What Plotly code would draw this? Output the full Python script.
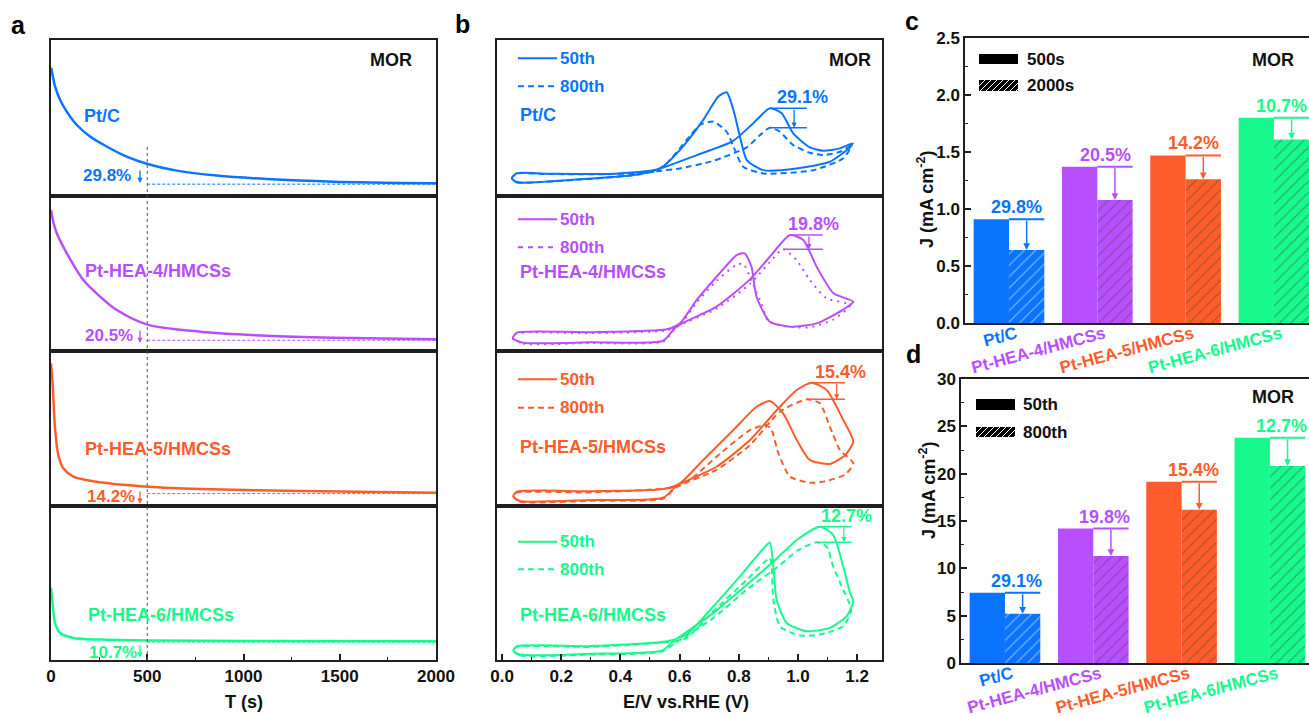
import plotly.graph_objects as go

W, H = 1309, 717
FONT = "Liberation Sans, Arial, Helvetica, sans-serif"

samples = ["Pt/C", "Pt-HEA-4/HMCSs", "Pt-HEA-5/HMCSs", "Pt-HEA-6/HMCSs"]
colors = ["#0A74FF", "#B84FFF", "#FF5C2B", "#17F98D"]

# ---------------- (a) chronoamperometry (panel-normalised current) ----------------
ca_t_ptc = [0, 4, 21, 47, 81, 133, 203, 289, 393, 506, 653, 861, 1120, 1467, 2000]
ca_j_ptc = [0.821, 0.80, 0.702, 0.616, 0.541, 0.455, 0.379, 0.315, 0.25, 0.201, 0.16, 0.128, 0.106, 0.089, 0.079]
ca_t_hea4 = [0, 12, 30, 82, 168, 255, 342, 505, 774, 1120, 1466, 2000]
ca_j_hea4 = [0.906, 0.831, 0.756, 0.627, 0.455, 0.348, 0.261, 0.165, 0.121, 0.095, 0.082, 0.072]
ca_t_hea5 = [0, 4, 9, 21, 38, 64, 116, 255, 505, 774, 1294, 2000]
ca_j_hea5 = [0.917, 0.86, 0.777, 0.498, 0.326, 0.24, 0.186, 0.15, 0.121, 0.106, 0.094, 0.083]
ca_t_hea6 = [0, 4, 9, 21, 47, 116, 255, 505, 1000, 2000]
ca_j_hea6 = [0.468, 0.42, 0.358, 0.24, 0.175, 0.143, 0.132, 0.126, 0.123, 0.121]
ca_loss = ["29.8%", "20.5%", "14.2%", "10.7%"]

# ---------------- (b) CV curves (panel-normalised current) ----------------
ptc_50_fwd_E = [0.033, 0.05, 0.275, 0.444, 0.511, 0.658, 0.78, 0.849, 0.905, 0.945, 0.984, 1.04, 1.086, 1.142, 1.185]
ptc_50_fwd_j = [0.111, 0.085, 0.106, 0.132, 0.158, 0.26, 0.35, 0.465, 0.561, 0.529, 0.40, 0.31, 0.288, 0.303, 0.335]
ptc_50_rev_E = [1.185, 1.176, 1.108, 0.996, 0.883, 0.827, 0.804, 0.782, 0.759, 0.731, 0.68, 0.601, 0.534, 0.376, 0.151, 0.05, 0.033]
ptc_50_rev_j = [0.335, 0.31, 0.217, 0.174, 0.163, 0.228, 0.378, 0.55, 0.664, 0.636, 0.486, 0.292, 0.174, 0.14, 0.14, 0.143, 0.111]
ptc_800_fwd_E = [0.033, 0.05, 0.275, 0.444, 0.511, 0.601, 0.714, 0.827, 0.872, 0.905, 0.939, 0.984, 1.04, 1.086, 1.142, 1.18]
ptc_800_fwd_j = [0.111, 0.085, 0.104, 0.13, 0.153, 0.174, 0.223, 0.31, 0.389, 0.436, 0.41, 0.324, 0.275, 0.26, 0.281, 0.318]
ptc_800_rev_E = [1.18, 1.153, 1.052, 0.883, 0.815, 0.782, 0.759, 0.714, 0.669, 0.624, 0.556, 0.511, 0.376, 0.151, 0.05, 0.033]
ptc_800_rev_j = [0.318, 0.239, 0.163, 0.142, 0.185, 0.314, 0.41, 0.475, 0.454, 0.357, 0.206, 0.153, 0.138, 0.138, 0.141, 0.111]

hea4_50_fwd_E = [0.036, 0.072, 0.3, 0.545, 0.589, 0.725, 0.838, 0.905, 0.973, 1.018, 1.063, 1.12, 1.187]
hea4_50_fwd_j = [0.079, 0.05, 0.053, 0.063, 0.154, 0.283, 0.459, 0.605, 0.745, 0.713, 0.541, 0.369, 0.315]
hea4_50_rev_E = [1.187, 1.15, 1.063, 0.973, 0.905, 0.86, 0.843, 0.82, 0.793, 0.725, 0.658, 0.601, 0.557, 0.3, 0.05, 0.036]
hea4_50_rev_j = [0.315, 0.261, 0.175, 0.154, 0.186, 0.347, 0.541, 0.627, 0.616, 0.476, 0.326, 0.175, 0.137, 0.118, 0.115, 0.079]
hea4_800_fwd_E = [0.036, 0.072, 0.3, 0.545, 0.589, 0.725, 0.838, 0.905, 0.95, 0.995, 1.04, 1.096, 1.176]
hea4_800_fwd_j = [0.079, 0.045, 0.048, 0.058, 0.15, 0.27, 0.43, 0.57, 0.653, 0.584, 0.455, 0.337, 0.294]
hea4_800_rev_E = [1.176, 1.12, 1.04, 0.96, 0.9, 0.877, 0.843, 0.815, 0.79, 0.725, 0.658, 0.601, 0.557, 0.3, 0.05, 0.036]
hea4_800_rev_j = [0.294, 0.2, 0.15, 0.155, 0.19, 0.3, 0.45, 0.56, 0.55, 0.45, 0.31, 0.165, 0.13, 0.112, 0.11, 0.079]

hea5_50_fwd_E = [0.038, 0.06, 0.3, 0.545, 0.59, 0.725, 0.838, 0.939, 0.996, 1.046, 1.097, 1.153, 1.187]
hea5_50_fwd_j = [0.06, 0.029, 0.035, 0.05, 0.126, 0.25, 0.423, 0.637, 0.745, 0.792, 0.745, 0.552, 0.412]
hea5_50_rev_E = [1.187, 1.16, 1.108, 1.04, 0.996, 0.95, 0.905, 0.86, 0.782, 0.68, 0.601, 0.545, 0.3, 0.05, 0.038]
hea5_50_rev_j = [0.412, 0.326, 0.268, 0.294, 0.423, 0.595, 0.674, 0.637, 0.487, 0.294, 0.143, 0.106, 0.092, 0.089, 0.06]
hea5_800_fwd_E = [0.038, 0.06, 0.3, 0.545, 0.59, 0.725, 0.838, 0.939, 1.03, 1.074, 1.108, 1.142, 1.187]
hea5_800_fwd_j = [0.06, 0.025, 0.03, 0.045, 0.12, 0.23, 0.39, 0.605, 0.685, 0.659, 0.508, 0.358, 0.272]
hea5_800_rev_E = [1.187, 1.16, 1.087, 1.04, 0.973, 0.934, 0.911, 0.894, 0.838, 0.725, 0.635, 0.59, 0.3, 0.05, 0.038]
hea5_800_rev_j = [0.272, 0.2, 0.154, 0.147, 0.186, 0.337, 0.487, 0.519, 0.487, 0.315, 0.165, 0.12, 0.085, 0.083, 0.06]

hea6_50_fwd_E = [0.038, 0.06, 0.3, 0.54, 0.579, 0.714, 0.827, 0.917, 0.996, 1.074, 1.119, 1.153, 1.176, 1.187]
hea6_50_fwd_j = [0.06, 0.035, 0.04, 0.06, 0.121, 0.305, 0.487, 0.637, 0.777, 0.863, 0.81, 0.605, 0.434, 0.379]
hea6_50_rev_E = [1.187, 1.164, 1.108, 1.03, 0.962, 0.928, 0.917, 0.905, 0.889, 0.804, 0.714, 0.624, 0.557, 0.3, 0.05, 0.038]
hea6_50_rev_j = [0.379, 0.283, 0.208, 0.186, 0.24, 0.39, 0.605, 0.76, 0.734, 0.541, 0.347, 0.165, 0.121, 0.09, 0.089, 0.06]
hea6_800_fwd_E = [0.038, 0.06, 0.3, 0.54, 0.59, 0.72, 0.83, 0.93, 1.0, 1.063, 1.097, 1.119, 1.153, 1.18]
hea6_800_fwd_j = [0.06, 0.03, 0.035, 0.055, 0.115, 0.28, 0.46, 0.6, 0.71, 0.762, 0.734, 0.605, 0.455, 0.326]
hea6_800_rev_E = [1.18, 1.153, 1.074, 1.007, 0.939, 0.917, 0.911, 0.905, 0.827, 0.714, 0.624, 0.58, 0.3, 0.05, 0.038]
hea6_800_rev_j = [0.326, 0.218, 0.165, 0.158, 0.218, 0.39, 0.605, 0.659, 0.519, 0.315, 0.143, 0.12, 0.085, 0.085, 0.06]
cv_loss = ["29.1%", "19.8%", "15.4%", "12.7%"]

# ---------------- (c) / (d) bar values ----------------
j_500s = [0.91, 1.37, 1.47, 1.80]
j_2000s = [0.64, 1.08, 1.26, 1.61]
j_50th = [7.42, 14.2, 19.15, 23.8]
j_800th = [5.2, 11.3, 16.2, 20.8]
c_loss = ["29.8%", "20.5%", "14.2%", "10.7%"]
d_loss = ["29.1%", "19.8%", "15.4%", "12.7%"]

# ================= figure =================
def xr(n): return "x" if n == 1 else f"x{n}"
def yr(n): return "y" if n == 1 else f"y{n}"
def xa(n): return "xaxis" if n == 1 else f"xaxis{n}"
def ya(n): return "yaxis" if n == 1 else f"yaxis{n}"
def px(x): return x / W
def py(y): return 1 - y / H

INK = "#1f1f1f"
TICKFONT = dict(family=FONT, size=17, color="#111111", weight="bold")
LINE = dict(showline=True, linecolor=INK, linewidth=1.5, showgrid=False, zeroline=False, fixedrange=True,
            automargin=False)

fig = go.Figure()
axes = {}
rows = [(40, 195.5), (195.5, 350.5), (350.5, 505.5), (505.5, 660)]
for i, (top, bot) in enumerate(rows):
    for n, dom, rng, dt, mdt, fmt in [
        (i + 1, [51 / W, 436 / W], [0, 2000], 500, 250, "d"),
        (i + 5, [497 / W, 882 / W], [-0.017, 1.284], 0.2, 0.1, ".1f"),
    ]:
        xc = dict(LINE, domain=dom, range=rng, anchor=yr(n), mirror=True)
        if i == 3:
            xc.update(ticks="inside", ticklen=6, tickwidth=1.5, tickcolor=INK, tick0=0, dtick=dt,
                      tickformat=fmt, tickfont=TICKFONT,
                      minor=dict(ticks="inside", ticklen=3, tickwidth=1, tickcolor=INK, dtick=mdt, tick0=0))
        else:
            xc.update(ticks="", showticklabels=False)
        axes[xa(n)] = xc
        axes[ya(n)] = dict(LINE, domain=[py(bot), py(top)], range=[0, 1], anchor=xr(n), mirror=True,
                           ticks="", showticklabels=False)

cat_text = [f'<span style="color:{c}">{s}</span>' for s, c in zip(samples, colors)]
for n, xdom, xrng, ytop, ybot, yrng, ydt, ymdt, yfmt in [
    (9, [965 / W, 1], [-0.498, 3.397], 38, 323, [0, 2.5], 0.5, 0.25, ".1f"),
    (10, [961 / W, 1], [-0.498, 3.443], 379, 663, [0, 30], 5, 2.5, "d"),
]:
    axes[xa(n)] = dict(LINE, domain=xdom, range=xrng, anchor=yr(n), mirror=True, ticks="",
                       tickvals=[0, 1, 2, 3], ticktext=cat_text, tickangle=-15, tickfont=TICKFONT,
                       ticklabelshift=7, ticklabelstandoff=-7)
    axes[ya(n)] = dict(LINE, domain=[py(ybot), py(ytop)], range=yrng, anchor=xr(n), mirror=False,
                       ticks="inside", ticklen=6, tickwidth=1.5, tickcolor=INK, tick0=0, dtick=ydt,
                       tickformat=yfmt, tickfont=TICKFONT,
                       minor=dict(ticks="inside", ticklen=3, tickwidth=1, tickcolor=INK, dtick=ymdt, tick0=0))

shapes = []
ann = []

# ---- panel a ----
ca_sets = [(ca_t_ptc, ca_j_ptc), (ca_t_hea4, ca_j_hea4), (ca_t_hea5, ca_j_hea5), (ca_t_hea6, ca_j_hea6)]
a_label_pos = [(161, 0.513), (165, 0.513), (166, 0.363), (182, 0.294)]
a_pct_pos = [(156, 0.126), (166, 0.095), (177, 0.057), (187, 0.050)]
a_arrow_tip = [0.081, 0.048, 0.012, 0.016]
for i, (t, j) in enumerate(ca_sets):
    n = i + 1
    c = colors[i]
    fig.add_trace(go.Scatter(x=t, y=j, mode="lines", line=dict(color=c, width=2.5, shape="spline", smoothing=0.8),
                             xaxis=xr(n), yaxis=yr(n), hoverinfo="skip"))
    shapes.append(dict(type="line", xref=xr(n), yref=yr(n), x0=500, x1=2000, y0=j[-1] - 0.006, y1=j[-1] - 0.006,
                       line=dict(color=c, width=1, dash="3px,2px")))
    ann.append(dict(xref=xr(n), yref=yr(n), x=a_label_pos[i][0], y=a_label_pos[i][1], text=samples[i],
                    showarrow=False, xanchor="left", yanchor="middle",
                    font=dict(family=FONT, size=18, color=c, weight="bold")))
    ann.append(dict(xref=xr(n), yref=yr(n), x=a_pct_pos[i][0], y=a_pct_pos[i][1], text=ca_loss[i],
                    showarrow=False, xanchor="left", yanchor="middle",
                    font=dict(family=FONT, size=17, color=c, weight="bold")))
    ann.append(dict(xref=xr(n), yref=yr(n), x=462, y=a_arrow_tip[i], ax=0, ay=-14, text="", showarrow=True,
                    arrowhead=2, arrowsize=0.8, arrowwidth=1.3, arrowcolor=c))
shapes.append(dict(type="line", xref="x", yref="paper", x0=500, x1=500, y0=py(660), y1=py(145),
                   line=dict(color="#555555", width=1, dash="3px,3px")))
ann.append(dict(xref="x", yref="y", x=1766, y=0.874, text="MOR", showarrow=False,
                font=dict(family=FONT, size=18, color="#111111", weight="bold")))

# ---- panel b ----
cv_sets = [
    (ptc_50_fwd_E, ptc_50_fwd_j, ptc_50_rev_E, ptc_50_rev_j, ptc_800_fwd_E, ptc_800_fwd_j, ptc_800_rev_E, ptc_800_rev_j),
    (hea4_50_fwd_E, hea4_50_fwd_j, hea4_50_rev_E, hea4_50_rev_j, hea4_800_fwd_E, hea4_800_fwd_j, hea4_800_rev_E, hea4_800_rev_j),
    (hea5_50_fwd_E, hea5_50_fwd_j, hea5_50_rev_E, hea5_50_rev_j, hea5_800_fwd_E, hea5_800_fwd_j, hea5_800_rev_E, hea5_800_rev_j),
    (hea6_50_fwd_E, hea6_50_fwd_j, hea6_50_rev_E, hea6_50_rev_j, hea6_800_fwd_E, hea6_800_fwd_j, hea6_800_rev_E, hea6_800_rev_j),
]
dash800 = ["6px,4px", "2px,5px", "6px,4px", "6px,4px"]
dash_leg = ["6px,4px", "5px,5px", "6px,4px", "6px,4px"]
b_leg_y = [(0.883, 0.702, 0.519), (0.846, 0.666, 0.508), (0.814, 0.631, 0.379), (0.766, 0.588, 0.294)]
b_br_right = [1.03, 1.084, 1.159, 1.181]
b_arrow_x = [0.987, 1.037, 1.131, 1.155]
b_txt_x = [1.017, 1.051, 1.144, 1.165]
for i, s in enumerate(cv_sets):
    n = i + 5
    c = colors[i]
    fE, fj, rE, rj, fE8, fj8, rE8, rj8 = s
    fig.add_trace(go.Scatter(x=fE + rE[1:], y=fj + rj[1:], mode="lines",
                             line=dict(color=c, width=2, shape="spline", smoothing=0.6),
                             xaxis=xr(n), yaxis=yr(n), hoverinfo="skip"))
    fig.add_trace(go.Scatter(x=fE8 + rE8[1:], y=fj8 + rj8[1:], mode="lines",
                             line=dict(color=c, width=2, shape="spline", smoothing=0.6, dash=dash800[i]),
                             xaxis=xr(n), yaxis=yr(n), hoverinfo="skip"))
    top = max(fj)
    bot = max(fj8)
    e_top = fE[fj.index(top)]
    e_bot = fE8[fj8.index(bot)]
    shapes.append(dict(type="line", xref=xr(n), yref=yr(n), x0=e_top, x1=b_br_right[i], y0=top, y1=top,
                       line=dict(color=c, width=1.5)))
    shapes.append(dict(type="line", xref=xr(n), yref=yr(n), x0=e_bot, x1=b_br_right[i], y0=bot, y1=bot,
                       line=dict(color=c, width=1.5)))
    ann.append(dict(xref=xr(n), yref=yr(n), x=b_arrow_x[i], y=bot, axref=xr(n), ayref=yr(n),
                    ax=b_arrow_x[i], ay=top, text="", showarrow=True, arrowhead=2, arrowsize=0.8,
                    arrowwidth=1.3, arrowcolor=c))
    ann.append(dict(xref=xr(n), yref=yr(n), x=b_txt_x[i], y=top, yshift=11, text=cv_loss[i], showarrow=False,
                    font=dict(family=FONT, size=18, color=c, weight="bold")))
    ly50, ly800, lylab = b_leg_y[i]
    shapes.append(dict(type="line", xref=xr(n), yref=yr(n), x0=0.054, x1=0.186, y0=ly50, y1=ly50,
                       line=dict(color=c, width=2)))
    shapes.append(dict(type="line", xref=xr(n), yref=yr(n), x0=0.054, x1=0.186, y0=ly800, y1=ly800,
                       line=dict(color=c, width=2, dash=dash_leg[i])))
    for yy, tx in [(ly50, "50th"), (ly800, "800th")]:
        ann.append(dict(xref=xr(n), yref=yr(n), x=0.189, y=yy, text=tx, showarrow=False, xanchor="left",
                        font=dict(family=FONT, size=17, color=c, weight="bold")))
    ann.append(dict(xref=xr(n), yref=yr(n), x=0.054, y=lylab, text=samples[i], showarrow=False, xanchor="left",
                    font=dict(family=FONT, size=18, color=c, weight="bold")))
ann.append(dict(xref="x5", yref="y5", x=1.176, y=0.874, text="MOR", showarrow=False,
                font=dict(family=FONT, size=18, color="#111111", weight="bold")))

# ---- panels c, d ----
cats = [0, 1, 2, 3]
pct_dx = {9: 0.09, 10: 0.13}
for n, sol, hat, loss in [(9, j_500s, j_2000s, c_loss), (10, j_50th, j_800th, d_loss)]:
    fig.add_trace(go.Bar(x=cats, y=sol, width=0.4, offset=-0.4, marker=dict(color=colors, line_width=0),
                         xaxis=xr(n), yaxis=yr(n), hoverinfo="skip"))
    fig.add_trace(go.Bar(x=cats, y=hat, width=0.4, offset=0,
                         marker=dict(color=colors, line_width=0,
                                     pattern=dict(shape="/", fgcolor="white", fillmode="overlay", size=8, solidity=0.14)),
                         xaxis=xr(n), yaxis=yr(n), hoverinfo="skip"))
    for k in cats:
        c = colors[k]
        shapes.append(dict(type="line", xref=xr(n), yref=yr(n), x0=k, x1=k + 0.4, y0=sol[k], y1=sol[k],
                           line=dict(color=c, width=2)))
        ann.append(dict(xref=xr(n), yref=yr(n), x=k + 0.2, y=hat[k], axref=xr(n), ayref=yr(n), ax=k + 0.2,
                        ay=sol[k], text="", showarrow=True, arrowhead=2, arrowsize=0.9, arrowwidth=1.5,
                        arrowcolor=c))
        ann.append(dict(xref=xr(n), yref=yr(n), x=k + pct_dx[n], y=sol[k], yshift=12, text=loss[k],
                        showarrow=False, font=dict(family=FONT, size=18, color=c, weight="bold")))


def hatch_rect(x0, x1, y0, y1, step=6):
    w, h = x1 - x0, y1 - y0
    out = [dict(type="rect", xref="paper", yref="paper", x0=px(x0), x1=px(x1), y0=py(y1), y1=py(y0),
                fillcolor="black", line=dict(width=0))]
    c = -h
    while c < w:
        kmin, kmax = max(0, -c), min(h, w - c)
        if kmin < kmax:
            out.append(dict(type="line", xref="paper", yref="paper",
                            x0=px(x0 + c + kmin), y0=py(y1 - kmin), x1=px(x0 + c + kmax), y1=py(y1 - kmax),
                            line=dict(color="white", width=1)))
        c += step
    return out


for (lx0, lx1, sy0, sy1, hy0, hy1, tx, t1, t2) in [
    (979, 1018, 54, 64, 80, 91, 1025, "500s", "2000s"),
    (976, 1015, 399, 410, 427, 437, 1021, "50th", "800th"),
]:
    shapes.append(dict(type="rect", xref="paper", yref="paper", x0=px(lx0), x1=px(lx1), y0=py(sy1), y1=py(sy0),
                       fillcolor="black", line=dict(width=0)))
    shapes.extend(hatch_rect(lx0, lx1, hy0, hy1))
    ann.append(dict(xref="paper", yref="paper", x=px(tx), y=py((sy0 + sy1) / 2), text=t1, showarrow=False,
                    xanchor="left", font=dict(family=FONT, size=17, color="#111111", weight="bold")))
    ann.append(dict(xref="paper", yref="paper", x=px(tx), y=py((hy0 + hy1) / 2), text=t2, showarrow=False,
                    xanchor="left", font=dict(family=FONT, size=17, color="#111111", weight="bold")))

for xx, yy in [(1273, 60), (1273, 397)]:
    ann.append(dict(xref="paper", yref="paper", x=px(xx), y=py(yy), text="MOR", showarrow=False,
                    font=dict(family=FONT, size=18, color="#111111", weight="bold")))

for xx, yy in [(925, 199), (927, 490)]:
    ann.append(dict(xref="paper", yref="paper", x=px(xx), y=py(yy), text="J (mA cm<sup>-2</sup>)",
                    textangle=-90, showarrow=False, font=dict(family=FONT, size=18, color="#111111", weight="bold")))

# axis titles
ann.append(dict(xref="paper", yref="paper", x=px(243.5), y=py(702), text="T (s)", showarrow=False,
                font=dict(family=FONT, size=18, color="#111111", weight="bold")))
ann.append(dict(xref="paper", yref="paper", x=px(686), y=py(702), text="E/V vs.RHE (V)", showarrow=False,
                font=dict(family=FONT, size=18, color="#111111", weight="bold")))

# panel letters
for lt, xx, yy in [("a", 18, 25), ("b", 462, 24), ("c", 912, 21), ("d", 913, 354)]:
    ann.append(dict(xref="paper", yref="paper", x=px(xx), y=py(yy), text=lt, showarrow=False,
                    font=dict(family=FONT, size=25, color="#000000", weight="bold")))

# explicit anchors (avoid plotly's 'auto' anchoring on paper coordinates)
for a in ann:
    a.setdefault("xanchor", "center")
    a.setdefault("yanchor", "middle")

fig.update_layout(width=W, height=H, margin=dict(l=0, r=0, t=0, b=0, autoexpand=False), paper_bgcolor="white",
                  plot_bgcolor="white", showlegend=False, barmode="overlay", shapes=shapes, annotations=ann,
                  **axes)
fig.write_html("out.html", config={"displayModeBar": False})
